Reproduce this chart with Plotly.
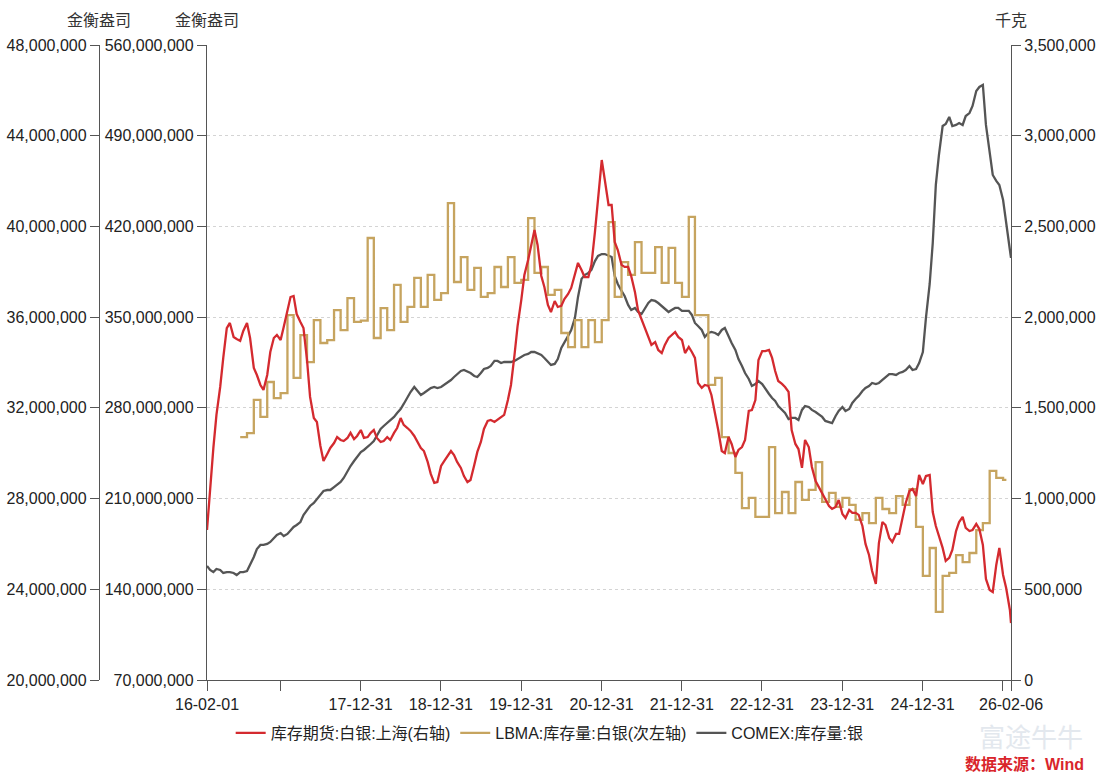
import pandas as pd
import plotly.graph_objects as go

# ---------------- data ----------------
# SHFE silver futures warehouse stock, tonnes (right axis, plotted in kg)
shfe_t = [
    827, 1069, 1279, 1461, 1615, 1775, 1940, 1968, 1891, 1880,
    1869, 1924, 1968, 1885, 1720, 1681, 1626, 1599, 1681, 1808,
    1885, 1902, 1874, 1946, 2028, 2111, 2117, 2017, 1973, 1940,
    1764, 1560, 1444, 1422, 1290, 1207, 1246, 1279, 1306, 1339,
    1323, 1317, 1334, 1362, 1328, 1345, 1378, 1334, 1339, 1362,
    1378, 1334, 1312, 1317, 1339, 1323, 1362, 1389, 1444, 1406,
    1389, 1373, 1345, 1312, 1279, 1262, 1202, 1136, 1086, 1091,
    1180, 1207, 1240, 1262, 1240, 1202, 1169, 1124, 1091, 1102,
    1185, 1257, 1312, 1384, 1428, 1433, 1422, 1433, 1450, 1461,
    1543, 1626, 1791, 1951, 2095, 2232, 2315, 2403, 2480, 2398,
    2227, 2166, 2067, 2028, 2089, 2056, 2062, 2100, 2128, 2161,
    2232, 2299, 2260, 2221, 2221, 2288, 2469, 2662, 2866, 2756,
    2618, 2618, 2414, 2370, 2288, 2277, 2277, 2227, 2139, 2039,
    1990, 1940, 1896, 1847, 1863, 1819, 1802, 1847, 1885, 1902,
    1918, 1891, 1874, 1802, 1836, 1808, 1775, 1637, 1610, 1626,
    1621, 1571, 1472, 1378, 1262, 1251, 1339, 1301, 1229, 1268,
    1284, 1323, 1483, 1488, 1543, 1764, 1813, 1813, 1819, 1775,
    1703, 1648, 1632, 1615, 1588, 1378, 1301, 1273, 1169, 1323,
    1284, 1174, 1097, 1064, 1025, 992, 959, 943, 954, 992,
    915, 893, 937, 921, 921, 910, 849, 750, 689, 601,
    529, 755, 871, 854, 783, 761, 805, 805, 904, 976,
    1042, 1053, 1014, 1130, 1080, 1124, 1130, 926, 849, 799,
    728, 656, 673, 717, 821, 871, 899, 838, 821, 827,
    860, 832, 744, 557, 496, 485, 634, 728, 579, 507,
    386, 314,
]

# COMEX silver stocks, million troy oz (inner left axis)
comex_moz = [
    158.0, 154.9, 153.3, 155.7, 154.9, 152.6, 153.3, 153.3, 152.6, 151.0,
    153.3, 153.3, 154.1, 158.7, 164.9, 171.1, 174.2, 174.2, 175.0, 176.5,
    179.6, 181.9, 183.4, 181.1, 182.7, 185.8, 188.1, 189.6, 191.9, 197.3,
    201.2, 204.3, 206.6, 209.7, 213.5, 215.9, 216.6, 216.6, 218.9, 220.5,
    222.8, 225.9, 231.3, 235.1, 239.0, 242.1, 245.9, 247.5, 249.8, 252.1,
    254.4, 259.1, 263.7, 266.0, 268.3, 270.6, 273.0, 276.0, 279.1, 283.0,
    288.4, 292.2, 296.1, 293.0, 289.9, 291.5, 293.8, 295.3, 296.1, 295.3,
    296.1, 297.7, 300.0, 301.5, 303.8, 306.1, 308.5, 309.2, 307.7, 306.9,
    304.6, 303.8, 306.9, 310.0, 310.8, 312.3, 316.2, 316.2, 314.6, 315.4,
    315.4, 315.4, 316.2, 317.7, 319.3, 320.8, 321.6, 323.1, 323.1, 322.3,
    320.8, 318.5, 315.4, 313.1, 313.9, 317.7, 326.2, 330.1, 335.5, 340.1,
    349.4, 365.6, 379.5, 382.5, 384.1, 386.4, 393.3, 397.2, 398.7, 398.7,
    397.2, 396.4, 381.8, 375.6, 370.2, 366.3, 359.4, 355.5, 357.1, 354.0,
    352.4, 356.3, 360.9, 363.2, 362.5, 360.9, 358.6, 356.3, 354.0, 355.5,
    357.1, 357.1, 354.8, 354.8, 354.8, 351.7, 345.5, 343.2, 340.1, 334.7,
    337.8, 338.6, 337.8, 336.2, 340.1, 341.6, 334.7, 330.1, 324.7, 317.7,
    312.3, 306.9, 302.3, 296.9, 298.4, 300.7, 298.4, 294.6, 290.7, 287.6,
    285.3, 281.4, 278.4, 276.0, 271.4, 272.2, 272.2, 270.6, 278.4, 281.4,
    280.7, 278.4, 276.8, 275.3, 273.0, 269.9, 269.1, 268.3, 273.7, 277.6,
    280.7, 277.6, 279.1, 283.8, 286.8, 289.2, 293.0, 295.3, 296.9, 299.2,
    298.4, 299.2, 301.5, 303.8, 306.1, 306.1, 305.4, 306.9, 307.7, 309.2,
    312.3, 309.2, 310.0, 314.6, 323.1, 349.4, 375.6, 407.2, 452.0, 475.1,
    497.5, 499.1, 504.5, 497.5, 498.3, 499.8, 498.3, 505.2, 507.5, 513.0,
    524.5, 527.6, 529.2, 498.3, 479.0, 459.7, 455.1, 452.0, 440.4, 421.1,
    401.8, 395.7,
]

# LBMA silver holdings, million troy oz, monthly from 2016-07 (outer left axis)
lbma_moz = [
    30.71, 30.89, 32.35, 31.60, 33.14, 32.43, 32.65, 36.09, 33.32, 35.21,
    34.02, 35.87, 34.86, 34.99, 36.31, 35.43, 36.84, 35.79, 35.85, 39.49,
    35.08, 36.40, 35.43, 37.42, 35.79, 36.45, 37.73, 36.45, 37.86, 36.76,
    37.06, 41.03, 37.55, 38.65, 37.20, 38.17, 36.89, 37.06, 38.21, 37.33,
    38.65, 37.51, 37.64, 40.37, 37.95, 38.21, 36.98, 37.20, 35.30, 34.68,
    35.87, 34.68, 35.87, 34.90, 35.87, 40.19, 36.89, 38.43, 37.86, 39.31,
    37.95, 37.95, 39.09, 37.51, 39.05, 37.51, 36.89, 40.42, 36.09, 36.09,
    33.01, 33.32, 30.71, 30.01, 29.13, 27.58, 28.03, 27.19, 27.19, 30.27,
    27.36, 28.29, 27.36, 28.73, 27.94, 28.38, 29.61, 27.85, 28.25, 27.63,
    28.03, 27.72, 27.06, 27.36, 26.92, 28.03, 27.54, 27.36, 28.11, 27.72,
    28.42, 26.75, 24.59, 25.82, 23.00, 24.59, 24.72, 25.51, 25.20, 25.60,
    26.61, 26.92, 29.22, 28.91, 28.82,
]
lbma_last_date = "2026-01-16"

# sampling dates
semi_dates = list(pd.date_range("2016-02-01", "2026-02-01", freq="SMS")) + [pd.Timestamp("2026-02-06")]
lbma_dates = list(pd.date_range("2016-07-01", periods=len(lbma_moz), freq="MS")) + [pd.Timestamp(lbma_last_date)]

assert len(semi_dates) == len(shfe_t) == len(comex_moz), (len(semi_dates), len(shfe_t), len(comex_moz))

shfe_kg = [v * 1000 for v in shfe_t]
comex_oz = [v * 1e6 for v in comex_moz]
lbma_oz = [v * 1e6 for v in lbma_moz] + [lbma_moz[-1] * 1e6]

# axis ticks
x_tick_dates = ["2016-02-01", "2016-12-31", "2017-12-31", "2018-12-31", "2019-12-31",
                "2020-12-31", "2021-12-31", "2022-12-31", "2023-12-31", "2024-12-31",
                "2025-12-31", "2026-02-06"]
x_tick_text = ["16-02-01", "", "17-12-31", "18-12-31", "19-12-31", "20-12-31",
               "21-12-31", "22-12-31", "23-12-31", "24-12-31", "", "26-02-06"]
y_inner_ticks = [70e6, 140e6, 210e6, 280e6, 350e6, 420e6, 490e6, 560e6]
y_outer_ticks = [20e6, 24e6, 28e6, 32e6, 36e6, 40e6, 44e6, 48e6]
y_right_ticks = [0, 500e3, 1000e3, 1500e3, 2000e3, 2500e3, 3000e3, 3500e3]

RED = "#d42a2f"
GOLD = "#c6a45f"
GRAY = "#555555"
AXIS = "#555555"
FONT = "Liberation Sans, Arial, Noto Sans CJK SC, sans-serif"
FS = 16

fig = go.Figure()
fig.add_trace(go.Scatter(x=semi_dates, y=shfe_kg, name="库存期货:白银:上海(右轴)",
                         mode="lines", line=dict(color=RED, width=2.3), yaxis="y3"))
fig.add_trace(go.Scatter(x=lbma_dates, y=lbma_oz, name="LBMA:库存量:白银(次左轴)",
                         mode="lines", line=dict(color=GOLD, width=2.3, shape="hv"), yaxis="y2"))
fig.add_trace(go.Scatter(x=semi_dates, y=comex_oz, name="COMEX:库存量:银",
                         mode="lines", line=dict(color=GRAY, width=2.3), yaxis="y"))

axis_common = dict(ticks="outside", ticklen=9, tickcolor=AXIS, tickwidth=1.2,
                   showline=True, linecolor=AXIS, linewidth=1.3, zeroline=False,
                   tickfont=dict(size=FS, color="#222"), tickformat=",d",
                   automargin=False)

fig.update_layout(
    width=1106, height=776,
    margin=dict(l=99, r=95, t=45, b=96, autoexpand=False),
    paper_bgcolor="white", plot_bgcolor="white",
    font=dict(family=FONT, size=FS, color="#222"),
    xaxis=dict(domain=[108 / 912, 1], type="date",
               range=["2016-02-01", "2026-02-06"],
               tickvals=x_tick_dates, ticktext=x_tick_text, tickangle=0,
               ticks="outside", ticklen=10, tickcolor=AXIS, tickwidth=1.2,
               showline=True, linecolor=AXIS, linewidth=1.3,
               showgrid=False, zeroline=False, automargin=False,
               tickfont=dict(size=FS, color="#222")),
    yaxis=dict(range=[70e6, 560e6], tickvals=y_inner_ticks,
               showgrid=True, gridcolor="#d4d4d4", gridwidth=1, griddash="3px,3px",
               **axis_common),
    yaxis2=dict(range=[20e6, 48e6], tickvals=y_outer_ticks, overlaying="y",
                side="left", anchor="free", position=0, showgrid=False,
                **axis_common),
    yaxis3=dict(range=[0, 3.5e6], tickvals=y_right_ticks, overlaying="y",
                side="right", anchor="x", showgrid=False, **axis_common),
    legend=dict(orientation="h", xref="container", yref="container",
                x=0.497, xanchor="center", y=1 - 733 / 776, yanchor="middle",
                font=dict(size=FS, color="#222", family=FONT),
                itemwidth=30, bgcolor="rgba(0,0,0,0)"),
    showlegend=True,
)

# paper coordinates: x spans pixels 99..1011, y spans 680..45
def px_x(px):
    return (px - 99) / 912

def px_y(py):
    return (680 - py) / 635

# axis unit titles
for xp, txt in [(99, "金衡盎司"), (207, "金衡盎司"), (1011, "千克")]:
    fig.add_annotation(x=px_x(xp), y=px_y(21), xref="paper", yref="paper",
                       text=txt, showarrow=False, xanchor="center", yanchor="middle",
                       font=dict(size=FS, color="#333", family=FONT))

# watermark + source
fig.add_annotation(x=px_x(1085), y=px_y(735), xref="paper", yref="paper",
                   text="富途牛牛", showarrow=False, xanchor="right", yanchor="middle",
                   font=dict(size=26, color="#e3e8ee", family="Noto Sans CJK SC"))
fig.add_annotation(x=px_x(1086), y=px_y(764), xref="paper", yref="paper",
                   text="<b>数据来源：Wind</b>", showarrow=False, xanchor="right", yanchor="middle",
                   font=dict(size=16, color="#d9252b", family=FONT))

fig.write_html("out.html")
